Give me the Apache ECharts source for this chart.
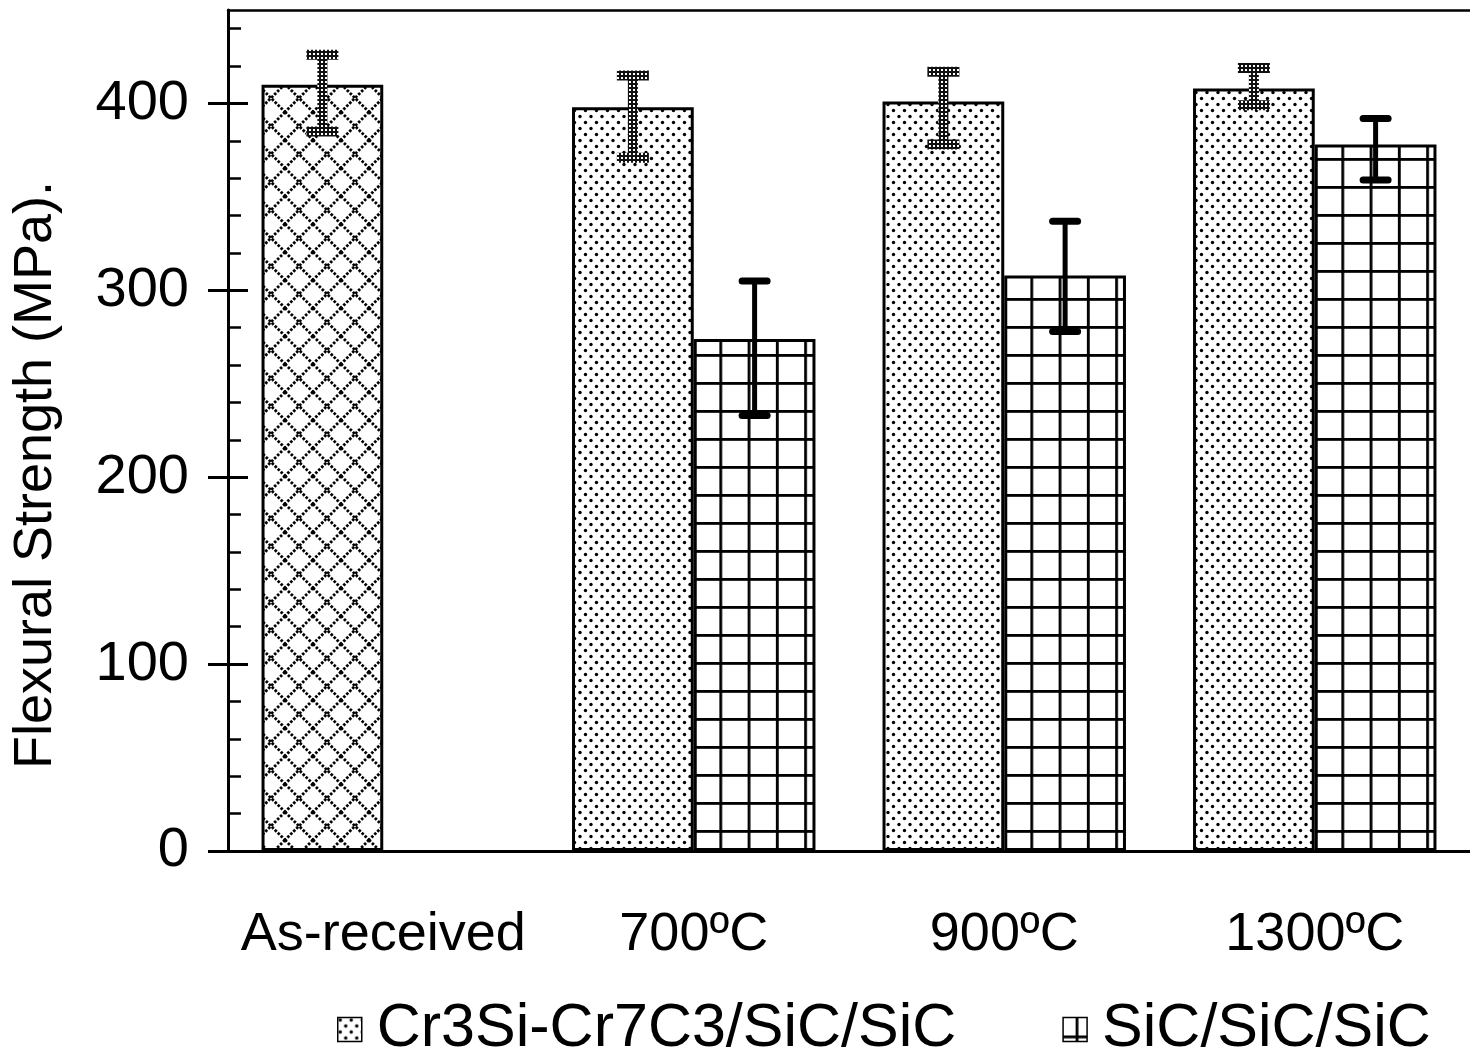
<!DOCTYPE html>
<html>
<head>
<meta charset="utf-8">
<script src="https://cdn.jsdelivr.net/npm/echarts@6/dist/echarts.min.js"></script>
<style>
html,body{margin:0;padding:0;background:#fff;}
#chart{width:1470px;height:1051px;}
</style>
</head>
<body>
<div id="chart"></div>
<script>
// ---- data ----
const categories = ['As-received', '700ºC', '900ºC', '1300ºC'];
const seriesNames = ['Cr3Si-Cr7C3/SiC/SiC', 'SiC/SiC/SiC'];
const crValues = [410, 398, 401, 408];
const crLow    = [385, 371, 378, 399];
const crHigh   = [426, 415, 417, 419];
const sicValues = [null, 274, 308, 378];
const sicLow    = [null, 233, 278, 359];
const sicHigh   = [null, 305, 337, 392];
const majorTicks = [0, 100, 200, 300, 400];
const minorTicks = [20, 40, 60, 80, 120, 140, 160, 180, 220, 240, 260, 280, 320, 340, 360, 380, 420, 440];
const yTitle = 'Flexural Strength (MPa).';

// ---- patterns ----
function mk(w, h, draw) {
  const c = document.createElement('canvas');
  c.width = w; c.height = h;
  const ctx = c.getContext('2d');
  ctx.fillStyle = '#fff'; ctx.fillRect(0, 0, w, h);
  draw(ctx);
  return c;
}
const dotsCanvas = mk(11, 12, ctx => {
  ctx.fillStyle = '#000';
  ctx.beginPath(); ctx.arc(2.5, 2.5, 1.7, 0, Math.PI * 2); ctx.fill();
  ctx.beginPath(); ctx.arc(8, 8.5, 1.7, 0, Math.PI * 2); ctx.fill();
});
const gridCanvas = mk(28, 28, ctx => {
  ctx.fillStyle = '#000';
  ctx.fillRect(0, 0, 28, 2.8);
  ctx.fillRect(0, 0, 2.8, 28);
});
const crossCanvas = mk(28, 28, ctx => {
  ctx.strokeStyle = '#000';
  ctx.lineWidth = 2.8;
  ctx.setLineDash([2.6, 1.6]);
  for (const o of [-28, 0, 28]) {
    ctx.beginPath(); ctx.moveTo(o, 0); ctx.lineTo(o + 28, 28); ctx.stroke();
    ctx.beginPath(); ctx.moveTo(o + 28, 0); ctx.lineTo(o, 28); ctx.stroke();
  }
});
const errCanvas = mk(4, 4, ctx => {
  ctx.fillStyle = '#111'; ctx.fillRect(0, 0, 4, 4);
  ctx.fillStyle = '#fff'; ctx.fillRect(1, 1, 2, 2);
});
const dotsPattern = { image: dotsCanvas, repeat: 'repeat' };
const gridPattern = { image: gridCanvas, repeat: 'repeat', x: 12.5, y: 18, scaleX: 311 / 11 / 28, scaleY: 1 };
const crossPattern = { image: crossCanvas, repeat: 'repeat', x: 5, y: 0 };
const errPattern = { image: errCanvas, repeat: 'repeat' };

const BAR_FRAC = 0.392;
const FONT = 'Liberation Sans, Arial, Helvetica, sans-serif';

const crBarData = crValues.map((v, i) =>
  categories[i] === 'As-received' ? { value: v, itemStyle: { color: crossPattern } } : v);
const sicBarData = sicValues.map(v => (v == null ? '-' : v));
const crErrData = crValues.map((v, i) => [i, crLow[i], crHigh[i]]).filter(d => d[1] != null);
const sicErrData = sicValues.map((v, i) => [i, sicLow[i], sicHigh[i]]).filter(d => d[1] != null);

function errItem(offsetSign, textured) {
  return function (params, api) {
    const idx = api.value(0);
    const lo = api.coord([idx, api.value(1)]);
    const hi = api.coord([idx, api.value(2)]);
    const band = api.size([1, 0])[0];
    const x = lo[0] + offsetSign * band * BAR_FRAC / 2;
    if (textured) {
      const sw = 10, cw = 32, ch = 10;
      return {
        type: 'group',
        children: [
          { type: 'rect', shape: { x: x - sw / 2, y: hi[1], width: sw, height: lo[1] - hi[1] }, style: { fill: errPattern } },
          { type: 'rect', shape: { x: x - cw / 2, y: hi[1] - ch / 2, width: cw, height: ch }, style: { fill: errPattern } },
          { type: 'rect', shape: { x: x - cw / 2, y: lo[1] - ch / 2, width: cw, height: ch }, style: { fill: errPattern } }
        ]
      };
    }
    const half = 12.5;
    return {
      type: 'group',
      children: [
        { type: 'line', shape: { x1: x, y1: hi[1], x2: x, y2: lo[1] }, style: { stroke: '#000', lineWidth: 5 } },
        { type: 'line', shape: { x1: x - half, y1: hi[1], x2: x + half, y2: hi[1] }, style: { stroke: '#000', lineWidth: 7, lineCap: 'round' } },
        { type: 'line', shape: { x1: x - half, y1: lo[1], x2: x + half, y2: lo[1] }, style: { stroke: '#000', lineWidth: 7, lineCap: 'round' } }
      ]
    };
  };
}

const yBase = { type: 'value', min: 0, max: 450, interval: 100, position: 'left', splitLine: { show: false } };

const chart = echarts.init(document.getElementById('chart'), null, { renderer: 'canvas' });
chart.setOption({
  animation: false,
  backgroundColor: '#fff',
  textStyle: { fontFamily: FONT, color: '#000' },
  grid: { left: 228, top: 10, width: 1244, height: 841, show: false, containLabel: false },
  xAxis: [{
    type: 'category',
    data: categories,
    axisLine: { lineStyle: { color: '#000', width: 3 } },
    axisTick: { show: false },
    axisLabel: { interval: 0, color: '#000', fontSize: 54, fontFamily: FONT, margin: 57 },
    splitLine: { show: false }
  }, {
    type: 'category',
    position: 'top',
    data: categories,
    axisLine: { show: true, onZero: false, lineStyle: { color: '#000', width: 2.5 } },
    axisTick: { show: false },
    axisLabel: { show: false },
    splitLine: { show: false }
  }],
  yAxis: [
    Object.assign({}, yBase, {
      axisLine: { show: true, onZero: false, lineStyle: { color: '#000', width: 3 } },
      axisTick: { show: true, inside: false, length: 20, customValues: majorTicks, lineStyle: { color: '#000', width: 3 } },
      axisLabel: { show: true, customValues: majorTicks, color: '#000', fontSize: 56, fontFamily: FONT, margin: 39 }
    }),
    Object.assign({}, yBase, {
      axisLine: { show: false },
      axisTick: { show: true, inside: true, length: 20, customValues: majorTicks, lineStyle: { color: '#000', width: 3 } },
      axisLabel: { show: false }
    }),
    Object.assign({}, yBase, {
      axisLine: { show: false },
      axisTick: { show: true, inside: true, length: 13, customValues: minorTicks, lineStyle: { color: '#000', width: 2.5 } },
      axisLabel: { show: false }
    })
  ],
  legend: {
    data: seriesNames,
    left: 332,
    top: 994,
    itemWidth: 24,
    itemHeight: 24,
    itemGap: 106,
    icon: 'rect',
    itemStyle: { borderColor: '#000', borderWidth: 1.5 },
    textStyle: { fontSize: 61, color: '#000', fontFamily: FONT, padding: [0, 0, 0, 10] }
  },
  graphic: [{
    type: 'text',
    x: 36, y: 475,
    rotation: Math.PI / 2,
    style: { text: yTitle, fontSize: 54, fontFamily: FONT, fill: '#000', align: 'center', verticalAlign: 'middle' }
  }],
  series: [
    {
      name: seriesNames[0], type: 'bar', data: crBarData,
      barWidth: (BAR_FRAC * 100) + '%', barGap: '0%',
      itemStyle: { color: dotsPattern, borderColor: '#000', borderWidth: 3 }
    },
    {
      name: seriesNames[1], type: 'bar', data: sicBarData,
      barWidth: (BAR_FRAC * 100) + '%', barGap: '0%',
      itemStyle: { color: gridPattern, borderColor: '#000', borderWidth: 3 }
    },
    { type: 'custom', name: 'crErr', data: crErrData, renderItem: errItem(-1, true), encode: { x: 0, y: [1, 2] }, z: 5 },
    { type: 'custom', name: 'sicErr', data: sicErrData, renderItem: errItem(1, false), encode: { x: 0, y: [1, 2] }, z: 5 }
  ]
});
</script>
</body>
</html>
